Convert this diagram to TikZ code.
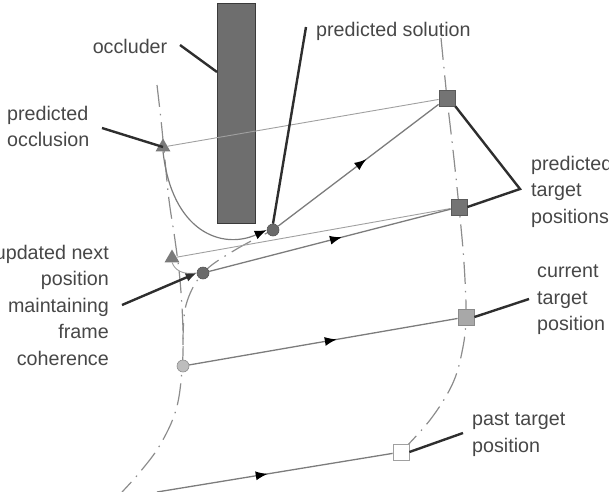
\documentclass[tikz,border=0pt]{standalone}
\usepackage{fontspec}
\setmainfont{Liberation Sans}
\usetikzlibrary{decorations.markings,arrows.meta,shapes.geometric}
\definecolor{txtgray}{HTML}{474747}
\definecolor{occfill}{HTML}{6E6E6E}
\definecolor{occdraw}{HTML}{3A3A3A}
\definecolor{sqfill}{HTML}{747474}
\definecolor{sqdraw}{HTML}{5A5A5A}
\definecolor{curfill}{HTML}{A8A8A8}
\definecolor{curdraw}{HTML}{8A8A8A}
\definecolor{trifill}{HTML}{7A7A7A}
\definecolor{dotdark}{HTML}{6A6A6A}
\definecolor{dotlight}{HTML}{BDBDBD}
\definecolor{thingray}{HTML}{A0A0A0}
\definecolor{trajgray}{HTML}{7C7C7C}
\definecolor{annotc}{HTML}{2E2E2E}
\definecolor{ddgray}{HTML}{8C8C8C}
\tikzset{
  lbl/.style={font=\fontsize{19.7}{26.5}\selectfont, text=txtgray, inner sep=0pt},
  sqbox/.style={rectangle, draw=sqdraw, fill=sqfill, minimum size=16pt, inner sep=0pt, line width=0.8pt},
  tribox/.style={regular polygon, regular polygon sides=3, fill=trifill, minimum size=17pt, inner sep=0pt},
  dotbox/.style={circle, fill=dotdark, draw=dotdark!80!black, minimum size=12pt, inner sep=0pt, line width=0.6pt},
  thinln/.style={draw=thingray, line width=0.9pt},
  trajln/.style={draw=trajgray, line width=1.3pt},
  annot/.style={draw=annotc, line width=2.4pt},
  dashdot/.style={draw=ddgray, line width=1.2pt, dash pattern=on 22pt off 7pt on 1.5pt off 7pt},
  midarrow/.style={postaction={decorate}, decoration={markings, mark=at position #1 with {\arrow[black]{Latex[length=12pt,width=9pt]}}}}
}
\begin{document}
\begin{tikzpicture}[x=1pt,y=-1pt]
\useasboundingbox (0,0) rectangle (609,491);
% positions
\coordinate (cTri1) at (163,147);
\coordinate (cTri2) at (172,258);
\coordinate (cSol) at (273,230);
\coordinate (cUpd) at (203,273);
\coordinate (cCur) at (183,366);
\coordinate (cSq1) at (447,98);
\coordinate (cSq2) at (459,207);
\coordinate (cSq3) at (466,317);
\coordinate (cSq4) at (401,452);
% dash-dot trajectories
\draw[dashdot] plot[smooth, tension=0.6] coordinates {(157,85) (161,120) (164,150) (169,200) (175,240) (180,280) (183,330) (182,370) (176,410) (160,445) (140,472) (122,492)};
\draw[dashdot] plot[smooth, tension=0.6] coordinates {(441,38) (447,98) (453,150) (459,207) (464,263) (466,317) (462,352) (452,385) (430,420) (401,452)};
\draw[dashdot] plot[smooth, tension=0.6] coordinates {(183,345) (186,305) (203,273) (235,250) (273,230)};
% occluder
\node[rectangle, draw=occdraw, fill=occfill, line width=1pt, minimum width=38pt, minimum height=220pt, inner sep=0pt] (occ) at (236,113) {};
% markers
\node[tribox] (tri1) at (cTri1) {};
\node[tribox] (tri2) at (cTri2) {};
\node[dotbox] (sol) at (cSol) {};
\node[dotbox] (upd) at (cUpd) {};
\node[circle, fill=dotlight, draw=dotlight!75!black, minimum size=12pt, inner sep=0pt, line width=0.6pt] (cur) at (cCur) {};
\node[sqbox] (sq1) at (cSq1) {};
\node[sqbox] (sq2) at (cSq2) {};
\node[sqbox, fill=curfill, draw=curdraw] (sq3) at (cSq3) {};
\node[sqbox, fill=white, draw=thingray] (sq4) at (cSq4) {};
\coordinate (pastStart) at (157,492);
% connectors
\draw[thinln] (tri1) -- (sq1);
\draw[thinln] (tri2) -- (sq2);
\draw[thinln] (tri2.south) .. controls (175,270) and (182,275) .. (upd.west);
\draw[draw=trajgray, line width=1.2pt, -{Latex[length=12pt,width=9pt,black]}] (tri1.south) .. controls (172,232) and (222,250) .. (sol.west);
\draw[trajln, midarrow=0.55] (sol) -- (sq1);
\draw[trajln, midarrow=0.55] (upd) -- (sq2);
\draw[trajln, midarrow=0.55] (cur) -- (sq3);
\draw[trajln, midarrow=0.47] (pastStart) -- (sq4);
% labels
\node[lbl, anchor=center] (tOcc) at (130,46) {occluder};
\node[lbl, anchor=north west, align=left] (tPO) at (7,106) {predicted\\occlusion};
\node[lbl, anchor=base west] (tPS) at (316,36) {predicted solution};
\node[lbl, anchor=north west, align=left] (tPT) at (531,156) {predicted\\target\\positions};
\node[lbl, anchor=north east, align=right] (tUpd) at (109,245) {updated next\\position\\maintaining\\frame\\coherence};
\node[lbl, anchor=north west, align=left] (tCur) at (537,265) {current\\target\\position};
\node[lbl, anchor=north west, align=left] (tPast) at (472,413) {past target\\position};
% annotation pointers
\coordinate (aOcc) at (180,45);
\coordinate (aOccEnd) at (217,72);
\coordinate (aPO) at (102,128);
\coordinate (aPS) at (306,27);
\coordinate (aPT) at (520,189);
\coordinate (aCur) at (529,299);
\coordinate (aPast) at (463,433);
\coordinate (aUpd) at (122,305);
\draw[annot] (aOcc) -- (aOccEnd);
\draw[annot] (aPO) -- (tri1.center);
\draw[annot] (aPS) -- (sol.north);
\draw[annot, line join=miter] (sq1.south east) -- (aPT) -- (sq2.east);
\draw[annot] (sq3.east) -- (aCur);
\draw[annot] (sq4.east) -- (aPast);
\draw[annot, -{Latex[length=11pt,width=9pt]}] (aUpd) -- (upd.west);
\end{tikzpicture}
\end{document}
